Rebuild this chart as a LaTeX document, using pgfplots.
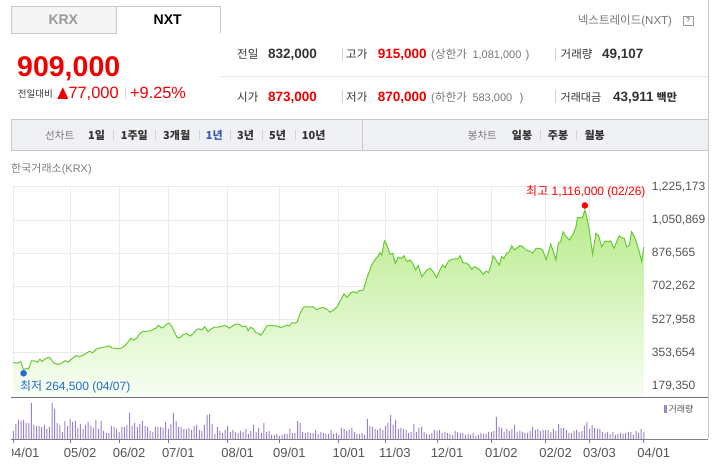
\documentclass[border=0pt]{standalone}
\usepackage{fontspec}
\setmainfont{Liberation Sans}
\newfontfamily\kr{Noto Sans CJK KR}
\usepackage{pgfplots}
\pgfplotsset{compat=1.18}
\usepackage{pgfplotstable}
\newcommand\fs[1]{\fontsize{#1}{#1}\selectfont}
\definecolor{cred}{HTML}{EE0000}
\definecolor{ctxt}{HTML}{333333}
\definecolor{c555}{HTML}{555555}
\definecolor{c777}{HTML}{777777}
\definecolor{cgrid}{HTML}{EBEBEB}
\definecolor{cline}{HTML}{66CC33}
\definecolor{gtop}{HTML}{B9EB8C}
\definecolor{gbot}{HTML}{F8FEF4}
\definecolor{cvol}{HTML}{9A81CB}
\definecolor{cblue}{HTML}{1F6BD6}
\definecolor{cblue2}{HTML}{3959B3}
\definecolor{cbar}{HTML}{F0F1F4}
\definecolor{cbord}{HTML}{C8C8C8}

\pgfplotstableread{
i p
0 304000
1.3 299000
2.9 307000
4 264500
5.0 272000
5.9 268000
7.1 312000
8.4 311000
9.3 305000
10.3 320000
11.2 309000
12.7 325000
13.9 330000
14.9 316000
15.8 299000
17.5 293000
18.7 299000
20.0 312000
21.3 305000
22.6 321000
24.3 339000
25.6 333000
26.9 341000
28.2 351000
29.5 362000
30.7 354000
32.2 374000
33.5 379000
34.8 383000
36.1 386000
37.2 390000
38.1 379000
39.4 377000
40.7 375000
41.9 379000
43.2 391000
44.5 412000
45.5 430000
46.4 421000
47.8 430000
49.0 456000
50.3 467000
51.7 467000
53.2 470000
54.1 477000
55.2 483000
56.2 498000
57.4 484000
58.4 491000
59.4 505000
60.4 509000
61.4 491000
62.5 459000
63.5 432000
64.6 435000
65.7 449000
67.1 456000
68.4 442000
69.6 453000
70.7 474000
72.0 480000
73.0 474000
74.1 491000
75.4 465000
76.7 480000
77.9 489000
79.5 489000
80.7 493000
82.0 498000
83.6 483000
84.9 495000
86.2 505000
87.5 502000
88.8 491000
90.0 495000
90.9 470000
91.8 488000
92.9 480000
93.9 459000
95.0 456000
95.7 446000
96.8 465000
98.1 495000
99.6 498000
100.9 496000
102.1 495000
103.4 486000
104.7 493000
105.8 500000
106.8 495000
107.9 512000
108.9 509000
109.9 517000
111.0 561000
112.3 593000
113.5 596000
114.8 595000
116.1 596000
117.4 580000
118.7 589000
120.0 591000
121.3 584000
122.6 567000
123.9 579000
125.4 596000
126.7 631000
127.9 663000
129.2 646000
130.6 670000
131.9 675000
132.9 668000
133.9 680000
135.5 684000
136.8 745000
138.7 815000
139.9 842000
141.2 863000
141.9 880000
142.6 868000
143.6 943000
144.5 924000
145.8 871000
146.9 877000
147.8 824000
149.0 856000
150.3 850000
151.2 864000
151.9 842000
152.6 833000
153.5 842000
154.6 824000
155.7 789000
156.7 812000
158.1 754000
159.1 772000
160.0 789000
161.3 798000
162.5 780000
163.8 749000
165.1 789000
166.2 815000
167.1 801000
168.4 836000
169.7 845000
171.0 848000
172.0 847000
172.9 864000
173.9 829000
175.4 824000
176.4 815000
177.4 793000
178.4 806000
179.3 801000
180.6 789000
181.9 766000
183.0 784000
183.9 775000
184.9 815000
185.7 864000
186.8 842000
188.1 815000
189.0 859000
189.9 850000
190.9 877000
192.0 885000
192.9 917000
193.9 894000
194.8 903000
196.1 917000
197.2 911000
198.4 894000
199.7 889000
201.0 877000
202.3 903000
203.6 903000
204.9 894000
206.2 842000
208.0 924000
209.0 885000
210.0 842000
210.9 929000
211.8 938000
212.8 990000
213.9 964000
215.2 947000
216.5 973000
217.8 1017000
218.3 1064000
219.3 1064000
220.2 1061000
221.2 1104000
221.9 1069000
222.9 999000
224.2 871000
225.5 982000
226.5 969000
227.7 911000
229.0 941000
230.3 938000
231.2 941000
232.5 903000
233.5 938000
234.5 969000
235.4 959000
236.4 956000
237.4 911000
238.4 920000
239.3 990000
240.6 956000
241.9 903000
243.2 833000
244 909000
}\price

\pgfplotstableread{
v
25
46
58
55
58
49
49
109
43
40
40
37
43
31
37
109
91
49
43
22
55
40
61
52
55
34
46
31
43
52
40
34
58
31
55
25
19
19
40
37
31
22
37
37
43
79
40
49
37
46
55
40
37
25
22
37
37
37
34
52
31
46
79
55
37
37
31
31
34
28
40
43
28
25
43
73
76
46
16
37
25
19
28
40
22
28
22
19
25
22
31
16
25
43
22
34
19
49
22
25
13
13
16
10
13
16
16
31
19
19
55
49
22
19
22
19
19
28
16
22
19
16
16
28
16
19
13
34
31
25
28
34
22
16
16
19
13
61
40
37
31
28
34
28
40
49
73
43
58
31
34
31
28
19
22
46
22
34
37
22
16
13
19
28
25
28
19
22
19
16
13
25
22
19
19
13
16
13
19
10
13
19
16
16
22
22
25
67
37
34
22
31
25
31
43
22
25
22
19
19
25
37
28
31
25
28
28
28
22
31
25
46
34
34
28
19
19
25
28
22
25
40
52
31
43
34
31
31
22
19
22
16
22
13
16
19
16
19
22
22
13
25
19
31
22
}\vol

\begin{document}
\begin{tikzpicture}[x=1pt,y=1pt]
\useasboundingbox (0,0) rectangle (715,471);
\fill[white] (0,0) rectangle (715,471);

% tabs
\filldraw[fill=black!4, draw=cbord] (11,437.7) rectangle (115.7,465);
\filldraw[fill=white, draw=cbord] (115.7,437.7) -- (115.7,465) -- (219.7,465) -- (219.7,437.7);
\node[anchor=base, inner sep=0, font=\bfseries\fs{14}, text=black!40] at (63.3,446.3) {KRX};
\node[anchor=base, inner sep=0, font=\bfseries\fs{14}, text=black] at (167.7,446.3) {NXT};

% right border
\draw[cbord] (708.3,31.7) -- (708.3,471);

% price block
\node[anchor=base west, inner sep=0, font=\bfseries\fs{28.5}, text=cred] at (17,394) {909,000};
\node[anchor=base west, inner sep=0, font=\kr\fs{9.5}, text=ctxt] at (17.7,373) {전일대비};
\fill[cred] (57.3,372) -- (68.3,372) -- (62.8,383.7) -- cycle;
\node[anchor=base west, inner sep=0, font=\fs{16.4}, text=cred] at (68.3,372) {77,000};
\draw[black!15] (124.7,372) -- (124.7,384);
\node[anchor=base west, inner sep=0, font=\fs{16.3}, text=cred] at (130,372) {+9.25\%};

% stats
\draw[black!9] (220,395) -- (708.3,395);
\foreach \yy in {410,367.5} {
  \draw[black!18] (341.7,\yy) -- (341.7,\yy+13);
  \draw[black!18] (555,\yy) -- (555,\yy+13);
}
\begin{scope}[every node/.style={anchor=base west, inner sep=0}]
\node[font=\kr\fs{11.5}, text=ctxt] at (237,412) {전일};
\node[font=\bfseries\fs{13.5}, text=ctxt] at (268,412) {832,000};
\node[font=\kr\fs{11.5}, text=ctxt] at (346,412) {고가};
\node[font=\bfseries\fs{13.5}, text=cred] at (377.7,412) {915,000};
\node[font=\fs{11.5}, text=c777] at (431,412) {(};
\node[font=\kr\fs{11.5}, text=c777] at (435,412) {상한가};
\node[font=\fs{11}, text=c777] at (472.3,412) {1,081,000};
\node[font=\fs{11.5}, text=c777] at (525.5,412) {)};
\node[font=\kr\fs{11.5}, text=ctxt] at (560.5,412) {거래량};
\node[font=\bfseries\fs{13.5}, text=ctxt] at (602,412) {49,107};

\node[font=\kr\fs{11.5}, text=ctxt] at (237,369.5) {시가};
\node[font=\bfseries\fs{13.5}, text=cred] at (268,369.5) {873,000};
\node[font=\kr\fs{11.5}, text=ctxt] at (346,369.5) {저가};
\node[font=\bfseries\fs{13.5}, text=cred] at (377.7,369.5) {870,000};
\node[font=\fs{11.5}, text=c777] at (431,369.5) {(};
\node[font=\kr\fs{11.5}, text=c777] at (435,369.5) {하한가};
\node[font=\fs{11}, text=c777] at (472.3,369.5) {583,000};
\node[font=\fs{11.5}, text=c777] at (519.5,369.5) {)};
\node[font=\kr\fs{11}, text=ctxt] at (560.5,369.5) {거래대금};
\node[font=\bfseries\fs{13.5}, text=ctxt] at (613,369.5) {43,911};
\node[font=\kr\bfseries\fs{11}, text=ctxt] at (656.5,369.5) {백만};

\node[font=\fs{11.5}, text=c777] at (577.7,446.2) {{\kr 넥스트레이드}(NXT)};
\end{scope}
\draw[black!40] (683.3,446) rectangle (693.3,455);
\node[inner sep=0, font=\bfseries\fs{7}, text=c777] at (688.3,450.5) {?};

% selector bar
\filldraw[fill=cbar, draw=cbord] (11,321) rectangle (708.3,352);
\draw[cbord] (361.7,321) -- (361.7,352);
\foreach \xx in {112.7,155,198.7,230.3,262,294.7,540,576.3} {
  \draw[black!18] (\xx,331) -- (\xx,341);
}
\begin{scope}[every node/.style={anchor=base west, inner sep=0}]
\node[font=\kr\fs{10.5}, text=c777] at (45,331.5) {선차트};
\node[font=\kr\bfseries\fs{11}, text=ctxt] at (88,331.5) {1일};
\node[font=\kr\bfseries\fs{11}, text=ctxt] at (120.7,331.5) {1주일};
\node[font=\kr\bfseries\fs{11}, text=ctxt] at (163,331.5) {3개월};
\node[font=\kr\bfseries\fs{11}, text=cblue2] at (205.7,331.5) {1년};
\node[font=\kr\bfseries\fs{11}, text=ctxt] at (237,331.5) {3년};
\node[font=\kr\bfseries\fs{11}, text=ctxt] at (269,331.5) {5년};
\node[font=\kr\bfseries\fs{11}, text=ctxt] at (301.7,331.5) {10년};
\node[font=\kr\fs{10.5}, text=c777] at (467.7,331.5) {봉차트};
\node[font=\kr\bfseries\fs{11}, text=ctxt] at (511.7,331.5) {일봉};
\node[font=\kr\bfseries\fs{11}, text=ctxt] at (547.7,331.5) {주봉};
\node[font=\kr\bfseries\fs{11}, text=ctxt] at (584.3,331.5) {월봉};
\node[font=\fs{11}, text=black!50] at (11,298.7) {{\kr 한국거래소}(KRX)};
\end{scope}

% price chart
\begin{axis}[at={(11.7pt,74pt)}, anchor=south west, scale only axis,
  width=632.6pt, height=210pt,
  xmin=-0.6, xmax=244.2, ymin=121541, ymax=1225173,
  axis line style={draw=none}, scaled y ticks=false,
  xtick={0,22,41,60,83,103,126,144,164,185,206,223,244}, xticklabels={},
  ytick={179350,353654,527958,702262,876565,1050869,1225173},
  yticklabels={{179,350},{353,654},{527,958},{702,262},{876,565},{1,050,869},{1,225,173}},
  yticklabel pos=right,
  yticklabel style={anchor=west, inner sep=0pt, xshift=7.4pt, font=\fs{12}, text=c555},
  major tick length=0pt, tick style={draw=none},
  grid=major, major grid style={draw=cgrid, line width=1pt}]
\addplot[draw=none, top color=gtop, bottom color=gbot, forget plot] table[x=i,y=p]{\price}
  -- (axis cs:244,121541) -- (axis cs:0,121541) -- cycle;
\addplot[color=cline, line width=1pt, mark=none] table[x=i,y=p]{\price};
\addplot[only marks, mark=*, mark size=3pt, color=red, mark options={yshift=2.3pt}] coordinates {(221.2,1116000)};
\addplot[only marks, mark=*, mark size=3pt, color=cblue, mark options={yshift=-3.5pt}] coordinates {(4,264500)};
\end{axis}

\node[anchor=base east, inner sep=0, font=\fs{12}, text=red] at (645.7,275) {{\kr 최고} 1,116,000 (02/26)};
\node[anchor=base west, inner sep=0, font=\fs{12}, text=cblue] at (20,80.5) {{\kr 최저} 264,500 (04/07)};

% volume chart
\begin{axis}[at={(11.7pt,31.7pt)}, anchor=south west, scale only axis,
  width=632.6pt, height=42.3pt,
  xmin=-0.6, xmax=244.2, ymin=0, ymax=127,
  axis line style={draw=none}, ytick=\empty,
  xtick={0,22,41,60,83,103,126,144,164,185,206,223,244},
  xticklabels={04/01,05/02,06/02,07/01,08/01,09/01,10/01,11/03,12/01,01/02,02/02,03/03,04/01},
  xtick pos=left, tick align=outside, major tick length=4pt,
  tick style={draw=black!50, line width=0.8pt},
  xticklabel style={anchor=north west, inner sep=0pt, xshift=-6.5pt, yshift=-4.7pt, font=\fs{13}, text=c555}]
\addplot[ybar, bar width=1pt, fill=cvol, draw=none] table[x expr=\coordindex, y=v]{\vol};
\end{axis}

% frame lines
\draw[black!55, line width=0.8pt] (11,74) -- (708.3,74);
\draw[black!50, line width=0.8pt] (11,31.7) -- (708.3,31.7);
\fill[white] (0,0) rectangle (12.2,30.5);

% volume legend
\fill[cvol] (664.3,58.3) rectangle (667,66);
\node[anchor=base west, inner sep=0, font=\kr\fs{9}, text=c555] at (668.3,58.8) {거래량};
\end{tikzpicture}
\end{document}
